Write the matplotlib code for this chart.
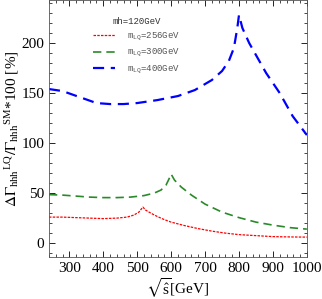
import matplotlib
matplotlib.use('Agg')
import matplotlib.pyplot as plt
from matplotlib.ticker import MultipleLocator

# sqrt(s) [GeV] and Delta Gamma ratio [%]
x_256=[240,280,320,360,400,440,470,490,505,512,517,525,540,560,580,600,640,680,720,760,800,850,900,950,1000]
y_256=[26,26,25.5,25,24.5,25,26,28,31,34,36,33,30,26.5,23.5,21,17.5,14.5,12,10,8.5,7.5,6.5,6.2,6]

x_300=[240,280,320,360,400,440,480,520,550,570,585,595,600,610,630,660,700,750,800,850,900,950,1000]
y_300=[48.5,48,47,46,45.5,45.5,46,47.5,50,53,58,65,69,63,56,48,39,31,25.5,21,18,15.5,14]

x_400=[240,280,330,380,420,460,500,560,620,670,720,750,770,785,795,800,810,830,860,880,920,958,1000]
y_400=[154,152,146,140,139,139,140,143,147,153,163,172,182,195,215,228,215,200,182,170,150,127,108]

plt.rcParams['font.family']='Liberation Serif'
plt.rcParams['mathtext.fontset']='stix'

fig=plt.figure(figsize=(3.22,2.99),dpi=100)
ax=fig.add_axes([0.152,0.14,0.801,0.86])

ax.plot(x_256,y_256,color='red',lw=0.9,dashes=(2,1),label=r'$\mathregular{m_{LQ}}$=256GeV')
ax.plot(x_300,y_300,color='#2a8a2a',lw=1.2,dashes=(5,3),label=r'$\mathregular{m_{LQ}}$=300GeV')
ax.plot(x_400,y_400,color='blue',lw=1.6,dashes=(5,3),label=r'$\mathregular{m_{LQ}}$=400GeV')

ax.set_xlim(240,1000)
ax.set_ylim(-14,243)
ax.xaxis.set_major_locator(MultipleLocator(100))
ax.xaxis.set_minor_locator(MultipleLocator(20))
ax.yaxis.set_major_locator(MultipleLocator(50))
ax.yaxis.set_minor_locator(MultipleLocator(10))
ax.tick_params(which='both',direction='in',top=True,right=True,labelsize=11)
ax.tick_params(which='major',length=4,width=0.6)
ax.tick_params(which='minor',length=2,width=0.5)
for s in ax.spines.values():
    s.set_linewidth(0.6)
    s.set_color('#555555')

ax.set_xlabel(r'$\sqrt{\hat{\mathregular{s}}}$[GeV]',fontsize=11,labelpad=1)
ax.set_ylabel(r'$\Delta\Gamma_{\mathregular{hhh}}{}^{\mathregular{LQ}}/\Gamma_{\mathregular{hhh}}{}^{\mathregular{SM}}$*100 [%]',fontsize=11,labelpad=0)

leg=ax.legend(title='mh=120GeV',loc='upper left',bbox_to_anchor=(0.14,0.965),frameon=False,
              prop={'family':'Liberation Mono','size':6.5},handlelength=2.4,labelspacing=0.5,
              handletextpad=1.3)
leg.get_title().set_fontfamily('Liberation Mono')
leg.get_title().set_fontsize(6.5)
leg.get_title().set_color('#333333')
for t in leg.get_texts():
    t.set_color('#555555')

fig.savefig('out.png',dpi=100)
